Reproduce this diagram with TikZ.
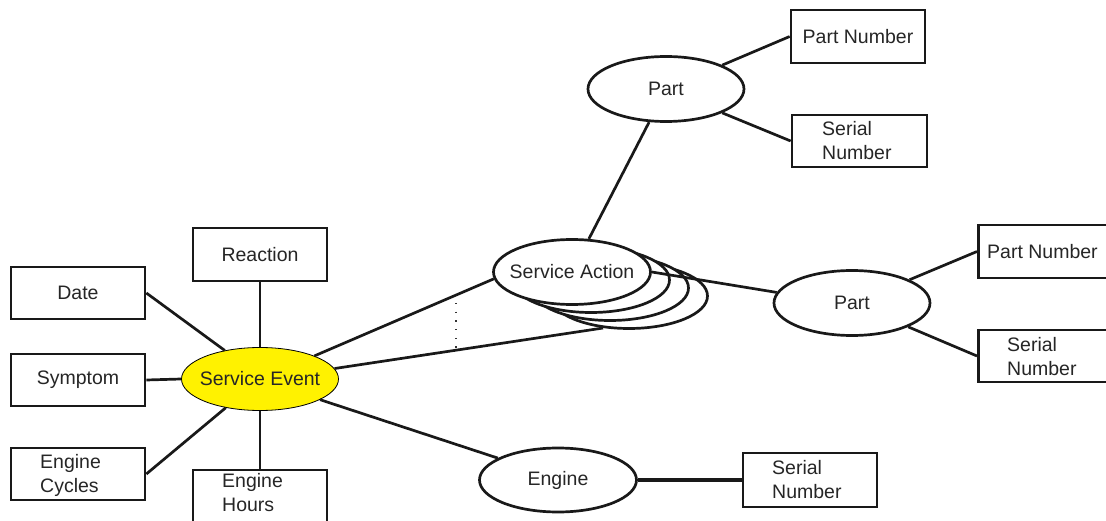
\documentclass[tikz,border=0pt]{standalone}
\usepackage{fontspec}
\setmainfont{Liberation Sans}
\usetikzlibrary{shapes.geometric}
\begin{document}
\begin{tikzpicture}[x=1pt,y=-1pt,
  every node/.style={font=\fontsize{19.5}{24}\selectfont, text=black!85},
  box/.style={draw=black!90, line width=2.7pt, rectangle, inner sep=0pt, fill=white},
  oval/.style={draw=black!90, line width=2.7pt, ellipse, inner sep=0pt, fill=white},
  conn/.style={draw=black!90, line width=2.7pt},
  lbl/.style={inner sep=0pt},
  txt/.style={inner sep=0pt, align=left, anchor=west}]
\useasboundingbox (0,0) rectangle (1106,521);
\begin{scope}
\clip (0,0) rectangle (1106,521);
% Service Event
\node[ellipse, draw=black, line width=0.8pt, fill=yellow, inner sep=0pt,
      minimum width=157pt, minimum height=63pt] (se) at (260,379) {};
\node[lbl] (set) at (se.center) {Service Event};
% left boxes
\node[box, minimum width=134pt, minimum height=52pt] (date) at (78,293) {Date};
\node[box, minimum width=134pt, minimum height=52pt] (sym) at (78,380) {Symptom};
\node[box, minimum width=134pt, minimum height=52pt] (ec) at (78,474) {};
\node[txt] (ect) at (40,475) {Engine\\Cycles};
\node[box, minimum width=134pt, minimum height=53pt] (rea) at (260,254.5) {Reaction};
\node[box, minimum width=134pt, minimum height=70pt] (eh) at (260,505) {};
\node[txt, anchor=north west] (eht) at (222,473) {Engine\\Hours};
% Service Action stack
\node[oval, minimum width=157pt, minimum height=65pt] (sa4) at (629,296) {};
\node[oval, minimum width=157pt, minimum height=65pt] (sa3) at (610,288) {};
\node[oval, minimum width=157pt, minimum height=65pt] (sa2) at (591,280) {};
\node[oval, minimum width=157pt, minimum height=65pt] (sa) at (572,272) {};
\node[lbl] (sat) at (sa.center) {Service Action};
% Parts
\node[oval, minimum width=156pt, minimum height=65pt] (p1) at (666,89) {};
\node[lbl] (p1t) at (p1.center) {Part};
\node[oval, minimum width=156pt, minimum height=65pt] (p2) at (852,303) {};
\node[lbl] (p2t) at (p2.center) {Part};
\node[box, minimum width=134pt, minimum height=53pt] (pn1) at (858,36.5) {Part Number};
\node[box, minimum width=135pt, minimum height=52pt] (sn1) at (859.5,141) {};
\node[txt] (sn1t) at (822,141) {Serial\\Number};
\node[box, minimum width=150pt, minimum height=53pt, anchor=west] (pn2) at (977,251.5) {};
\node[txt] (pn2t) at (987,251.5) {Part Number};
\node[box, minimum width=150pt, minimum height=52pt, anchor=west] (sn2) at (977,356) {};
\node[txt] (sn2t) at (1007,357) {Serial\\Number};
% Engine
\node[oval, minimum width=157pt, minimum height=64pt] (eng) at (558,480) {};
\node[lbl] (engt) at (eng.center) {Engine};
\node[box, minimum width=134pt, minimum height=54pt] (sn3) at (810,480) {};
\node[txt] (sn3t) at (772,480) {Serial\\Number};
% connectors
\draw[conn] (date.east) -- (se.141);
\draw[conn] (sym.east) -- (se.west);
\draw[conn] (ec.east) -- (se.220);
\draw[conn] (rea.south) -- (se.north);
\draw[conn] (se.south) -- (eh.north);
\draw[conn] (se.23) -- (sa.185);
\draw[conn] (se.8) -- (sa4.231);
\draw[conn] (se.-19) -- (eng.160);
\draw[conn] (sa.63) -- (p1.243);
\draw[conn] (p1.23) -- (pn1.west);
\draw[conn] (p1.-23) -- (sn1.west);
\draw[conn] (sa.east) -- (p2.172);
\draw[conn] (p2.22) -- (pn2.west);
\draw[conn] (p2.-23) -- (sn2.west);
\draw[conn, line width=4.2pt] (eng.east) -- (sn3.west);
% dotted
\coordinate (d1) at (456,303);
\coordinate (d2) at (456,350);
\draw[black!80, line width=1.3pt, dash pattern=on 1.3pt off 7.4pt] (d1) -- (d2);
\end{scope}
\end{tikzpicture}
\end{document}
